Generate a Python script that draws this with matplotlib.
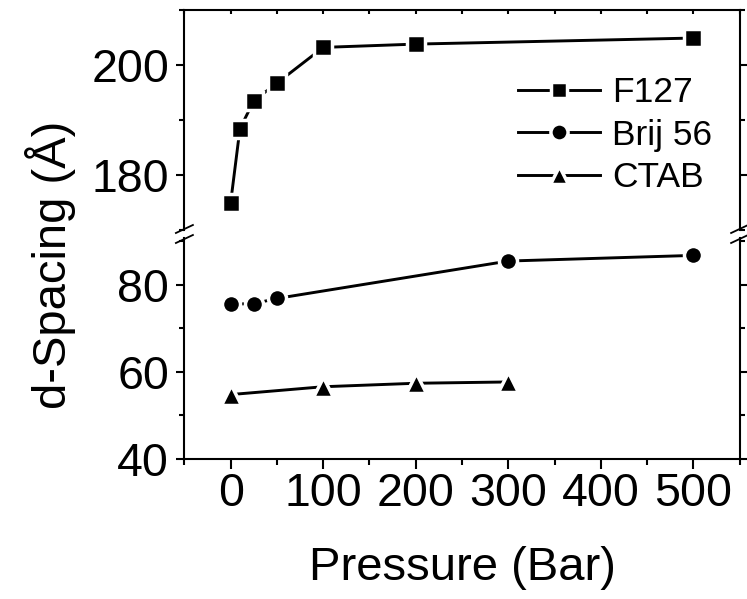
import matplotlib
matplotlib.use("Agg")
import matplotlib.pyplot as plt
from matplotlib.lines import Line2D
from matplotlib.ticker import MultipleLocator

plt.rcParams['font.family'] = ['Liberation Sans', 'DejaVu Sans']

# data
f127_p = [0, 10, 25, 50, 100, 200, 500]
f127_d = [175.0, 188.4, 193.5, 196.7, 203.2, 203.8, 204.9]

brij_p = [0, 25, 50, 300, 500]
brij_d = [75.5, 75.6, 76.8, 85.4, 86.7]

ctab_p = [0, 100, 200, 300]
ctab_d = [54.7, 56.5, 57.3, 57.6]

W, H = 747, 599
fig = plt.figure(figsize=(W / 100, H / 100), dpi=100)

def box(x0, x1, ytop, ybot):
    return [x0 / W, 1 - ybot / H, (x1 - x0) / W, (ybot - ytop) / H]

ax_top = fig.add_axes(box(184.4, 739.6, 10, 230))
ax_bot = fig.add_axes(box(184.4, 739.6, 238, 458.5))

lw = 2.1
sty = dict(color='black', lw=lw, mfc='black', mec='white', mew=2.5)

for ax in (ax_top, ax_bot):
    ax.plot(f127_p, f127_d, marker='s', ms=12.5, label='F127', **sty)
    ax.plot(brij_p, brij_d, marker='o', ms=13, label='Brij 56', **sty)
    ax.plot(ctab_p, ctab_d, marker='^', ms=14, label='CTAB', **sty)
    ax.set_xlim(-50, 550)
    ax.xaxis.set_major_locator(MultipleLocator(100))
    ax.xaxis.set_minor_locator(MultipleLocator(50))
    ax.yaxis.set_major_locator(MultipleLocator(20))
    ax.yaxis.set_minor_locator(MultipleLocator(10))
    for s in ax.spines.values():
        s.set_linewidth(1.5)
    ax.tick_params(axis='y', which='major', direction='out', length=6, width=1.5,
                   labelsize=33.5, pad=5, right=True)
    ax.tick_params(axis='y', which='minor', direction='out', length=3.5, width=1.5,
                   right=True)

ax_top.set_ylim(170, 210)
ax_bot.set_ylim(40, 90.7)

ax_top.spines['bottom'].set_visible(False)
ax_bot.spines['top'].set_visible(False)

ax_top.tick_params(axis='x', which='both', bottom=False, labelbottom=False,
                   top=True, direction='in', length=3, width=1.5)
ax_bot.tick_params(axis='x', which='major', direction='out', length=7, width=1.5,
                   labelsize=33.5, pad=3, top=False)
ax_bot.tick_params(axis='x', which='minor', direction='out', length=4, width=1.5,
                   top=False)

ax_bot.set_xlabel('Pressure (Bar)', fontsize=34, labelpad=21)
fig.text(50 / W, 1 - 265 / H, 'd-Spacing (\u00c5)', rotation=90, fontsize=34,
         ha='center', va='center')

# break marks on both y spines
for xs in (184.4, 739.6):
    for yb in (229, 239):
        fig.add_artist(Line2D([(xs - 8.5) / W, (xs + 8.5) / W],
                              [1 - (yb + 4) / H, 1 - (yb - 4) / H],
                              transform=fig.transFigure, color='black', lw=1.3))

handles, labels = ax_top.get_legend_handles_labels()
leg = ax_top.legend(handles, labels, loc='upper left', bbox_to_anchor=(0.601, 0.70),
                    frameon=False, fontsize=25.5, borderpad=0, borderaxespad=0,
                    handlelength=2.3, handletextpad=0.35, labelspacing=0.27,
                    markerscale=0.95)

fig.savefig('out.png', dpi=100)
